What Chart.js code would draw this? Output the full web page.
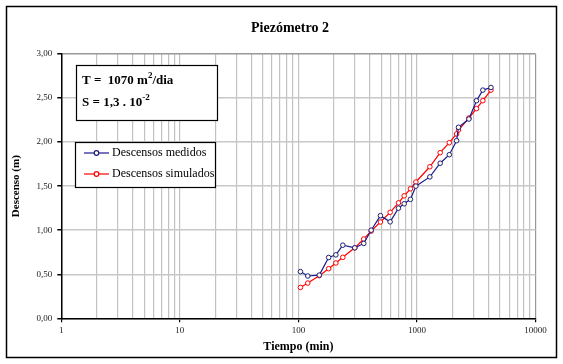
<!DOCTYPE html>
<html>
<head>
<meta charset="utf-8">
<script src="https://cdn.jsdelivr.net/npm/chart.js@4/dist/chart.umd.min.js"></script>
<style>
  html, body { margin: 0; padding: 0; background: #fff; }
  canvas { display: block; }
</style>
</head>
<body>
<canvas id="piezChart" width="563" height="364"></canvas>
<script>
// valores
const tiempos = [104, 120, 150, 180, 207, 237, 299, 356, 411, 492, 594, 698, 780, 881, 979, 1285, 1570, 1875, 2160, 2240, 2744, 3178, 3597, 4210];
const medidos = [0.53, 0.48, 0.49, 0.69, 0.72, 0.83, 0.80, 0.85, 1.00, 1.165, 1.095, 1.25, 1.30, 1.35, 1.50, 1.605, 1.76, 1.857, 2.016, 2.168, 2.262, 2.47, 2.59, 2.62];
const simulados = [0.35, 0.40, 0.484, 0.563, 0.628, 0.692, 0.80, 0.90, 0.99, 1.093, 1.203, 1.31, 1.39, 1.47, 1.547, 1.72, 1.88, 1.993, 2.092, 2.137, 2.273, 2.38, 2.47, 2.59];
const decadas = [1, 10, 100, 1000, 10000];
const etiquetasY = ["0,00", "0,50", "1,00", "1,50", "2,00", "2,50", "3,00"];

const serif = '"Liberation Serif", "Times New Roman", serif';

const puntos = (ys) => tiempos.map((t, i) => ({ x: t, y: ys[i] }));

// marco, titulo, cuadro de parametros y leyenda
const marco = {
  id: "marco",
  afterDraw(chart) {
    const ctx = chart.ctx;
    ctx.save();
    ctx.strokeStyle = "#000";
    ctx.lineWidth = 1.5;
    ctx.strokeRect(6.5, 6.5, 550, 351);

    ctx.fillStyle = "#000";
    ctx.textAlign = "center";
    ctx.textBaseline = "middle";
    ctx.font = "bold 14px " + serif;
    ctx.fillText("Piezómetro 2", 290, 28);

    // cuadro T y S
    ctx.fillStyle = "#fff";
    ctx.fillRect(76, 65, 141, 55);
    ctx.lineWidth = 1.2;
    ctx.strokeRect(76.5, 65.5, 141, 55);
    ctx.fillStyle = "#000";
    ctx.textAlign = "left";
    ctx.textBaseline = "alphabetic";
    const linea = (x, y, base, sup, resto) => {
      ctx.font = "bold 13px " + serif;
      ctx.fillText(base, x, y);
      let w = ctx.measureText(base).width;
      ctx.font = "bold 9px " + serif;
      ctx.fillText(sup, x + w, y - 6);
      w += ctx.measureText(sup).width;
      if (resto) {
        ctx.font = "bold 13px " + serif;
        ctx.fillText(resto, x + w, y);
      }
    };
    linea(82, 84, "T =  1070 m", "2", "/dia");
    linea(82, 106, "S = 1,3 . 10", "-2", "");

    // leyenda
    ctx.fillStyle = "#fff";
    ctx.fillRect(75, 142, 140, 45);
    ctx.strokeRect(75.5, 142.5, 140, 45);
    chart.data.datasets.forEach((ds, i) => {
      const y = 153 + i * 21;
      ctx.strokeStyle = ds.borderColor;
      ctx.lineWidth = 1.2;
      ctx.beginPath();
      ctx.moveTo(84, y);
      ctx.lineTo(109, y);
      ctx.stroke();
      ctx.beginPath();
      ctx.arc(96.5, y, 2.3, 0, Math.PI * 2);
      ctx.fillStyle = ds.pointBackgroundColor;
      ctx.fill();
      ctx.stroke();
      ctx.fillStyle = "#000";
      ctx.font = "12px " + serif;
      ctx.textBaseline = "middle";
      ctx.fillText(ds.label, 112, y);
    });
    ctx.restore();
  },
};

new Chart(document.getElementById("piezChart"), {
  type: "line",
  data: {
    datasets: [
      {
        label: "Descensos medidos",
        data: puntos(medidos),
        borderColor: "#1c1c8c",
        borderWidth: 1.2,
        pointRadius: 2.3,
        pointBorderWidth: 1,
        pointBackgroundColor: "#ffffdc",
        pointBorderColor: "#1c1c8c",
        tension: 0,
      },
      {
        label: "Descensos simulados",
        data: puntos(simulados),
        borderColor: "#ff0000",
        borderWidth: 1.2,
        pointRadius: 2.3,
        pointBorderWidth: 1,
        pointBackgroundColor: "#ffffff",
        pointBorderColor: "#ff0000",
        tension: 0,
      },
    ],
  },
  options: {
    responsive: false,
    animation: false,
    layout: { padding: { top: 54, right: 27.5, left: 0, bottom: 0 } },
    plugins: {
      legend: { display: false },
      tooltip: { enabled: false },
      title: { display: false },
    },
    scales: {
      x: {
        type: "logarithmic",
        min: 1,
        max: 10000,
        afterFit: (scale) => {
          scale.height = 45.7;
        },
        afterBuildTicks: (scale) => {
          const ticks = [];
          decadas.slice(0, -1).forEach((d) => {
            for (let m = 1; m < 10; m++) ticks.push({ value: d * m });
          });
          ticks.push({ value: decadas[decadas.length - 1] });
          scale.ticks = ticks;
        },
        ticks: {
          autoSkip: false,
          maxRotation: 0,
          padding: 3,
          color: "#222",
          font: { family: serif, size: 9 },
          callback: (v) => (decadas.includes(v) ? String(v) : ""),
        },
        grid: {
          color: (c) => (c.tick && c.tick.value === 10000 ? "#999" : "#c2c2c2"),
          lineWidth: 1.2,
          tickLength: 4,
          tickColor: (c) => (c.tick && decadas.includes(c.tick.value) ? "#000" : "rgba(0,0,0,0)"),
        },
        border: { color: "#000", width: 1.5 },
        title: {
          display: true,
          text: "Tiempo (min)",
          color: "#000",
          font: { family: serif, size: 12, weight: "bold" },
          padding: { top: 0, bottom: 10 },
        },
      },
      y: {
        min: 0,
        max: 3,
        afterFit: (scale) => {
          scale.width = 61.3;
        },
        ticks: {
          stepSize: 0.5,
          padding: 5,
          color: "#222",
          font: { family: serif, size: 9 },
          callback: (v, i) => etiquetasY[i],
        },
        grid: {
          color: (c) => (c.tick && c.tick.value === 3 ? "#999" : "#c8c8c8"),
          lineWidth: 1.5,
          tickLength: 4,
          tickColor: "#000",
        },
        border: { color: "#000", width: 1.5 },
        title: {
          display: true,
          text: "Descenso (m)",
          color: "#000",
          font: { family: serif, size: 11, weight: "bold" },
          padding: { top: 9.4, bottom: 0 },
        },
      },
    },
  },
  plugins: [marco],
});
</script>
</body>
</html>
